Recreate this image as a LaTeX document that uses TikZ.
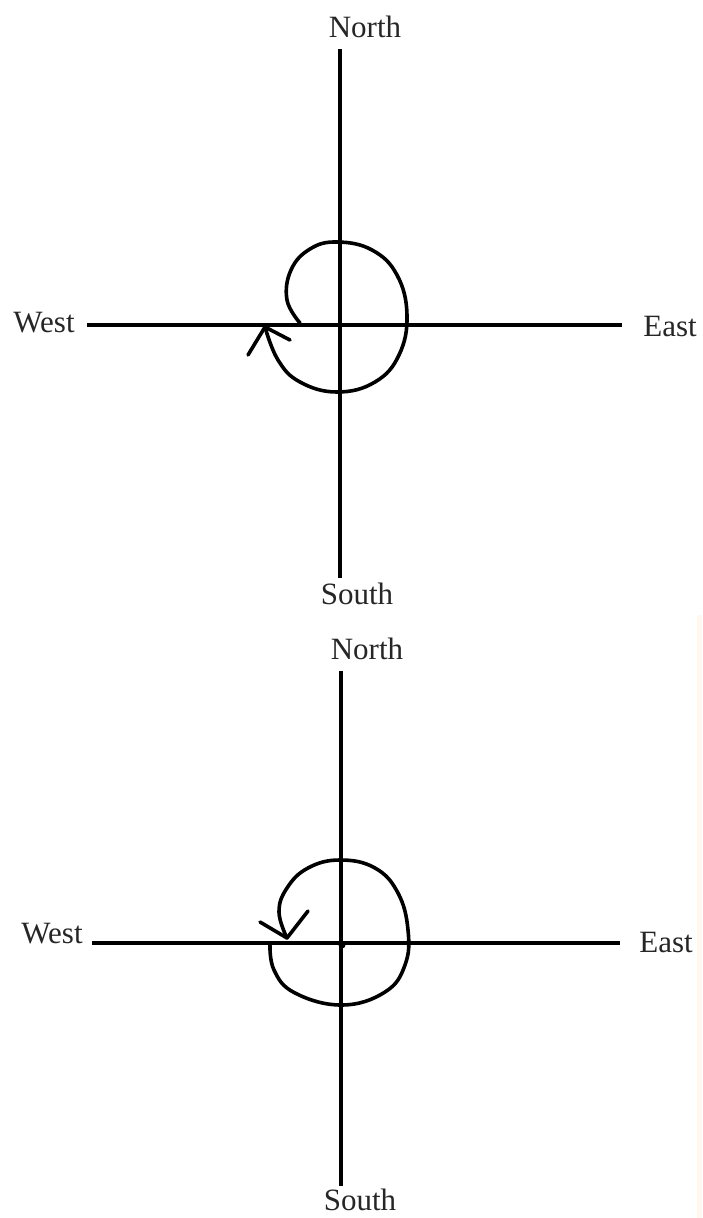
\documentclass[tikz,border=0pt]{standalone}
\usepackage{fontspec}
\setmainfont{Liberation Serif}
\begin{document}
\begin{tikzpicture}[x=1pt,y=-1pt,
  axis/.style={line width=3.2pt,black},
  spiral/.style={line width=3.6pt,black,line cap=round,line join=round},
  lbl/.style={font=\fontsize{31}{34}\selectfont,inner sep=0pt,text=black!85}]
\useasboundingbox (0,0) rectangle (702,1218);
\fill[white] (0,0) rectangle (702,1218);
\fill[red!8!orange!6] (697,615) rectangle (702,1218);
% ---------- top diagram ----------
\node[lbl] (n1) at (365,27) {North};
\node[lbl] (s1) at (357,594) {South};
\node[lbl] (w1) at (44,323) {West};
\node[lbl] (e1) at (670,326) {East};
\coordinate (n1e) at (340,49);
\coordinate (s1e) at (340,578);
\coordinate (w1e) at (87,325);
\coordinate (e1e) at (622,325);
\draw[axis] (n1e) -- (s1e);
\draw[axis] (w1e) -- (e1e);
\coordinate (t1) at (265,327);
\draw[spiral] plot[smooth,tension=0.7] coordinates {(300,323) (287,300) (291,270) (310,249) (337,242) (372,250) (397,275) (407,315) (399,355) (375,382) (337,392) (300,382) (278,360) (265,327)};
\draw[spiral] (248,355) -- (t1) -- (290,340);
% ---------- bottom diagram ----------
\node[lbl] (n2) at (367,649) {North};
\node[lbl] (s2) at (360,1200) {South};
\node[lbl] (w2) at (52,934) {West};
\node[lbl] (e2) at (666,942) {East};
\coordinate (n2e) at (341,671);
\coordinate (s2e) at (341,1186);
\coordinate (w2e) at (92,943);
\coordinate (e2e) at (620,943);
\draw[axis] (n2e) -- (s2e);
\draw[axis] (w2e) -- (e2e);
\fill (342,945) circle (3.5pt);
\coordinate (t2) at (287,938);
\draw[spiral] plot[smooth,tension=0.7] coordinates {(270,943) (274,970) (295,993) (342,1005) (385,992) (405,965) (408,930) (398,893) (375,868) (340,860) (308,868) (287,888) (279,912) (287,938)};
\draw[spiral] (260,922) -- (t2) -- (308,911);
\end{tikzpicture}
\end{document}
